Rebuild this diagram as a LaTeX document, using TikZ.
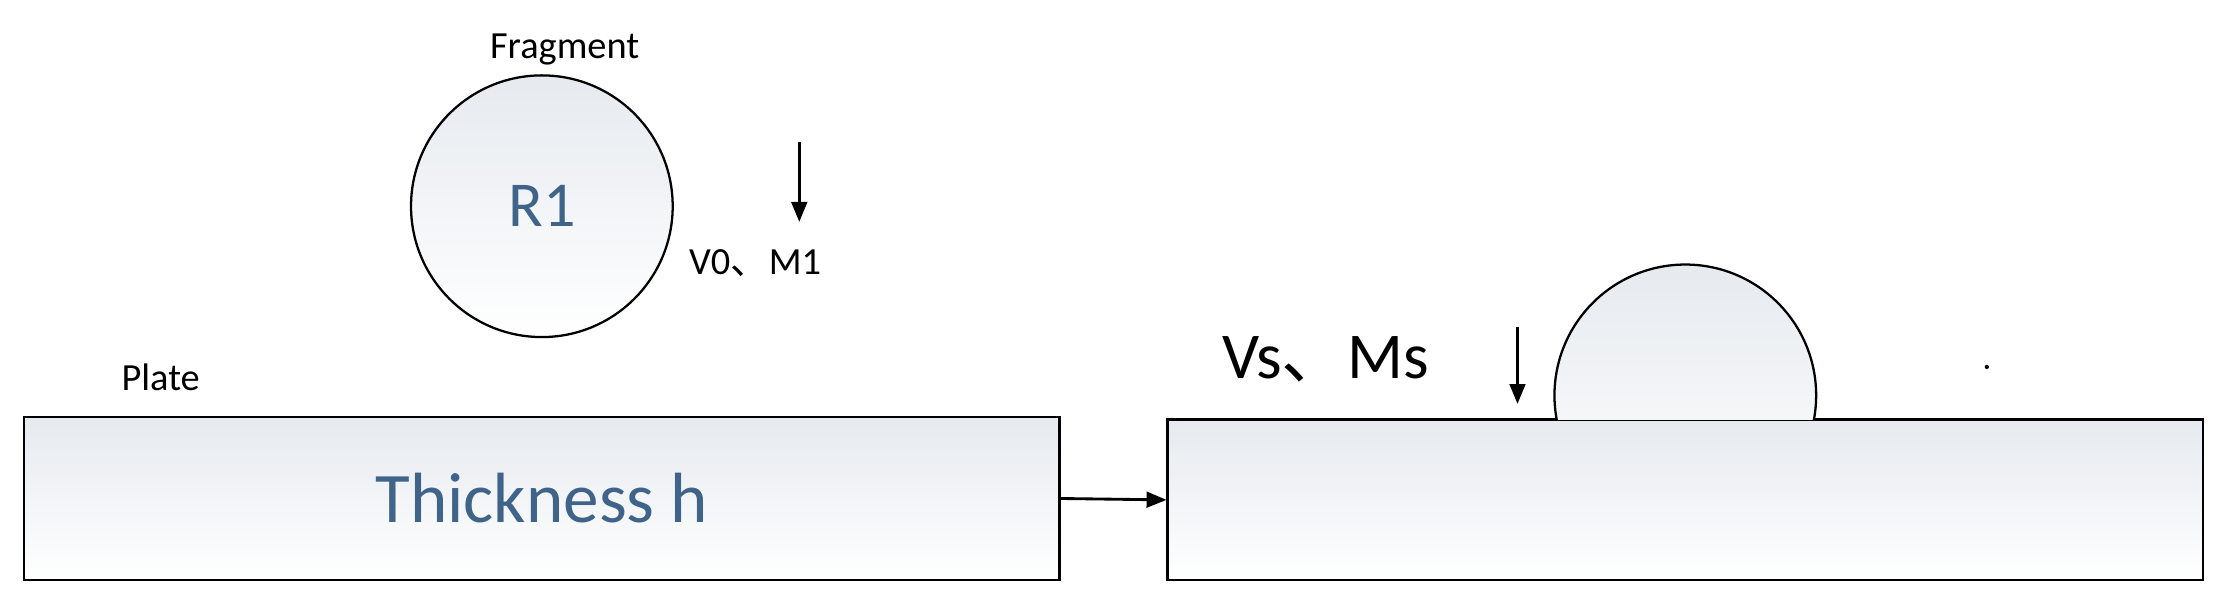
\documentclass[tikz,border=0pt]{standalone}
\usepackage{fontspec}
\setmainfont{Carlito}
\newfontfamily\cjk{Noto Sans CJK SC}
\usetikzlibrary{arrows.meta}
\definecolor{txtblue}{HTML}{3F6389}
\definecolor{topfill}{HTML}{E6EAEF}
\begin{document}
\begin{tikzpicture}[x=1pt,y=-1pt,
  box/.style={draw=black,line width=1.6pt,top color=topfill,bottom color=white},
  arr/.style={line width=2pt,-{Triangle[length=14pt,width=11pt]}},
  lbl/.style={font=\fontsize{27}{30}\selectfont,inner sep=0pt}]
\useasboundingbox (0,0) rectangle (1568,424);
\node[lbl] (frag) at (397,35) {Fragment};
\node[circle,box,minimum size=184pt,inner sep=0pt] (c1) at (381,145) {};
\node[font=\fontsize{45}{48}\selectfont,text=txtblue] (r1) at (381,145) {R1};
\coordinate (a1s) at (562,100); \coordinate (a1e) at (562,156);
\draw[arr] (a1s) -- (a1e);
\node[lbl] (v0) at (531,185) {V0{\cjk 、}M1};
\node[lbl] (plate) at (113,265) {Plate};
\node[box,minimum width=728pt,minimum height=115pt,inner sep=0pt] (r1box) at (381,350.5) {};
\node[font=\fontsize{50}{54}\selectfont,text=txtblue] (th) at (381,350) {Thickness h};
\node[box,minimum width=728pt,minimum height=113pt,inner sep=0pt] (r2box) at (1185,351.5) {};
\draw[arr] (r1box.east) -- (r2box.west);
\begin{scope}
\clip (1000,150) rectangle (1300,295);
\node[circle,box,minimum size=184pt,inner sep=0pt] (dome) at (1185,278) {};
\end{scope}
\node[font=\fontsize{46}{50}\selectfont,inner sep=0pt] (vs) at (932,253) {Vs{\cjk 、}Ms};
\coordinate (a2s) at (1067,230); \coordinate (a2e) at (1067,284);
\draw[arr] (a2s) -- (a2e);
\fill (1397,258) circle (1.5pt);
\end{tikzpicture}
\end{document}
